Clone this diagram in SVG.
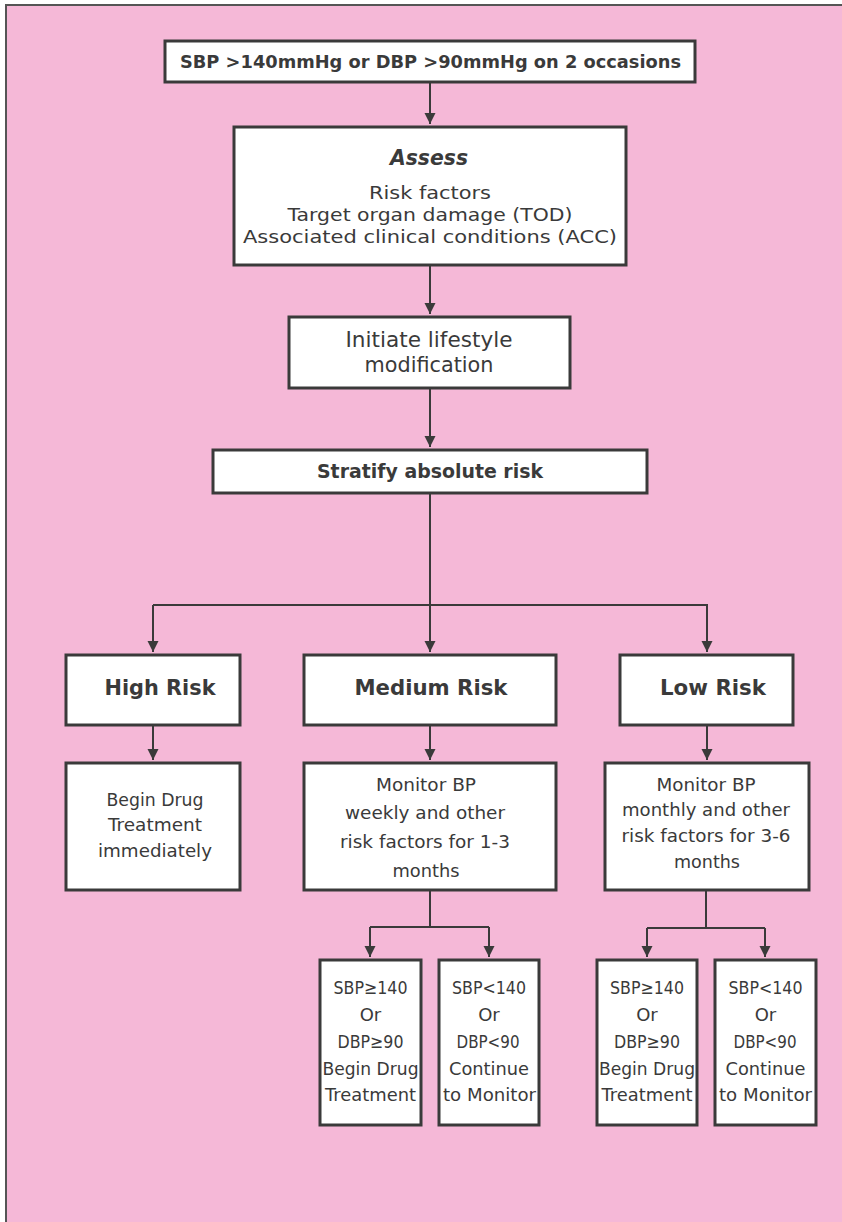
<svg xmlns="http://www.w3.org/2000/svg" width="842" height="1222" viewBox="0 0 842 1222">
<defs>
<style>
.box{fill:#ffffff;stroke:#3a3a3a;stroke-width:3}
.t{font-family:"DejaVu Sans","Liberation Sans",sans-serif;fill:#3a3a3a;text-anchor:middle}
.b{font-weight:bold}
.c{fill:none;stroke:#3a3a3a;stroke-width:2}
</style>
<marker id="ah" markerUnits="userSpaceOnUse" markerWidth="12" markerHeight="12" refX="11" refY="6" orient="auto">
<path d="M0,0.5 L11,6 L0,11.5 Z" fill="#3a3a3a"/>
</marker>
</defs>
<rect x="0" y="0" width="842" height="1222" fill="#ffffff"/>
<rect x="6" y="5" width="850" height="1230" fill="#F5B8D7" stroke="#555555" stroke-width="2"/>

<g id="connectors">
<path class="c" d="M430,83 V124" marker-end="url(#ah)"/>
<path class="c" d="M430,266 V314" marker-end="url(#ah)"/>
<path class="c" d="M430,389 V447" marker-end="url(#ah)"/>
<path class="c" d="M430,494 V652" marker-end="url(#ah)"/>
<path class="c" d="M153,605 H707 V652" marker-end="url(#ah)"/>
<path class="c" d="M153,605 V652" marker-end="url(#ah)"/>
<path class="c" d="M153,726 V760" marker-end="url(#ah)"/>
<path class="c" d="M430,726 V760" marker-end="url(#ah)"/>
<path class="c" d="M707,726 V760" marker-end="url(#ah)"/>
<path class="c" d="M430,891 V927 M370,927 H489"/>
<path class="c" d="M370,927 V957" marker-end="url(#ah)"/>
<path class="c" d="M489,927 V957" marker-end="url(#ah)"/>
<path class="c" d="M706,891 V928 M647,928 H765"/>
<path class="c" d="M647,928 V957" marker-end="url(#ah)"/>
<path class="c" d="M765,928 V957" marker-end="url(#ah)"/>
</g>

<g id="n-start">
<rect class="box" x="165" y="41" width="530" height="41"/>
<text class="t b" x="430.5" y="68" font-size="18" textLength="501" lengthAdjust="spacingAndGlyphs">SBP &gt;140mmHg or DBP &gt;90mmHg on 2 occasions</text>
</g>

<g id="n-assess">
<rect class="box" x="234" y="127" width="392" height="138"/>
<text class="t b" x="429" y="165" font-size="21" font-style="italic" textLength="78" lengthAdjust="spacingAndGlyphs">Assess</text>
<text class="t" x="430" y="199" font-size="18.5" textLength="122" lengthAdjust="spacingAndGlyphs">Risk factors</text>
<text class="t" x="430" y="221" font-size="18.5" textLength="285" lengthAdjust="spacingAndGlyphs">Target organ damage (TOD)</text>
<text class="t" x="430" y="243" font-size="18.5" textLength="374" lengthAdjust="spacingAndGlyphs">Associated clinical conditions (ACC)</text>
</g>

<g id="n-lifestyle">
<rect class="box" x="289" y="317" width="281" height="71"/>
<text class="t" x="429" y="347" font-size="21" textLength="167" lengthAdjust="spacingAndGlyphs">Initiate lifestyle</text>
<text class="t" x="429" y="372" font-size="21" textLength="129" lengthAdjust="spacingAndGlyphs">modification</text>
</g>

<g id="n-stratify">
<rect class="box" x="213" y="450" width="434" height="43"/>
<text class="t b" x="430" y="478" font-size="19" textLength="226" lengthAdjust="spacingAndGlyphs">Stratify absolute risk</text>
</g>

<g id="n-high">
<rect class="box" x="66" y="655" width="174" height="70"/>
<text class="t b" x="160" y="695" font-size="22" textLength="111" lengthAdjust="spacingAndGlyphs">High Risk</text>
</g>
<g id="n-medium">
<rect class="box" x="304" y="655" width="252" height="70"/>
<text class="t b" x="431" y="695" font-size="22" textLength="153" lengthAdjust="spacingAndGlyphs">Medium Risk</text>
</g>
<g id="n-low">
<rect class="box" x="620" y="655" width="173" height="70"/>
<text class="t b" x="713" y="695" font-size="22" textLength="106" lengthAdjust="spacingAndGlyphs">Low Risk</text>
</g>

<g id="n-high-action">
<rect class="box" x="66" y="763" width="174" height="127"/>
<text class="t" x="155" y="806" font-size="18" textLength="97" lengthAdjust="spacingAndGlyphs">Begin Drug</text>
<text class="t" x="155" y="831" font-size="18" textLength="94" lengthAdjust="spacingAndGlyphs">Treatment</text>
<text class="t" x="155" y="857" font-size="18" textLength="114" lengthAdjust="spacingAndGlyphs">immediately</text>
</g>
<g id="n-medium-action">
<rect class="box" x="304" y="763" width="252" height="127"/>
<text class="t" x="426" y="791" font-size="18" textLength="100" lengthAdjust="spacingAndGlyphs">Monitor BP</text>
<text class="t" x="425" y="819" font-size="18" textLength="160" lengthAdjust="spacingAndGlyphs">weekly and other</text>
<text class="t" x="425" y="848" font-size="18" textLength="170" lengthAdjust="spacingAndGlyphs">risk factors for 1-3</text>
<text class="t" x="426" y="877" font-size="18" textLength="67" lengthAdjust="spacingAndGlyphs">months</text>
</g>
<g id="n-low-action">
<rect class="box" x="605" y="763" width="204" height="127"/>
<text class="t" x="706" y="791" font-size="18" textLength="99" lengthAdjust="spacingAndGlyphs">Monitor BP</text>
<text class="t" x="706" y="816" font-size="18" textLength="168" lengthAdjust="spacingAndGlyphs">monthly and other</text>
<text class="t" x="706" y="842" font-size="18" textLength="169" lengthAdjust="spacingAndGlyphs">risk factors for 3-6</text>
<text class="t" x="707" y="868" font-size="18" textLength="66" lengthAdjust="spacingAndGlyphs">months</text>
</g>

<g id="n-med-high">
<rect class="box" x="320" y="960" width="101" height="165"/>
<text class="t" x="370.5" y="994" font-size="18" textLength="74" lengthAdjust="spacingAndGlyphs">SBP≥140</text>
<text class="t" x="370.5" y="1021" font-size="18">Or</text>
<text class="t" x="370.5" y="1048" font-size="18" textLength="66" lengthAdjust="spacingAndGlyphs">DBP≥90</text>
<text class="t" x="370.5" y="1075" font-size="18" textLength="96" lengthAdjust="spacingAndGlyphs">Begin Drug</text>
<text class="t" x="370.5" y="1101" font-size="18" textLength="91" lengthAdjust="spacingAndGlyphs">Treatment</text>
</g>
<g id="n-med-low">
<rect class="box" x="439" y="960" width="100" height="165"/>
<text class="t" x="489" y="994" font-size="18" textLength="74" lengthAdjust="spacingAndGlyphs">SBP&lt;140</text>
<text class="t" x="489" y="1021" font-size="18">Or</text>
<text class="t" x="488" y="1048" font-size="18" textLength="63" lengthAdjust="spacingAndGlyphs">DBP&lt;90</text>
<text class="t" x="489" y="1075" font-size="18" textLength="80" lengthAdjust="spacingAndGlyphs">Continue</text>
<text class="t" x="489.5" y="1101" font-size="18" textLength="93" lengthAdjust="spacingAndGlyphs">to Monitor</text>
</g>
<g id="n-low-high">
<rect class="box" x="597" y="960" width="100" height="165"/>
<text class="t" x="647" y="994" font-size="18" textLength="74" lengthAdjust="spacingAndGlyphs">SBP≥140</text>
<text class="t" x="647" y="1021" font-size="18">Or</text>
<text class="t" x="647" y="1048" font-size="18" textLength="66" lengthAdjust="spacingAndGlyphs">DBP≥90</text>
<text class="t" x="647" y="1075" font-size="18" textLength="96" lengthAdjust="spacingAndGlyphs">Begin Drug</text>
<text class="t" x="647" y="1101" font-size="18" textLength="91" lengthAdjust="spacingAndGlyphs">Treatment</text>
</g>
<g id="n-low-low">
<rect class="box" x="715" y="960" width="101" height="165"/>
<text class="t" x="765.5" y="994" font-size="18" textLength="74" lengthAdjust="spacingAndGlyphs">SBP&lt;140</text>
<text class="t" x="765.5" y="1021" font-size="18">Or</text>
<text class="t" x="765" y="1048" font-size="18" textLength="63" lengthAdjust="spacingAndGlyphs">DBP&lt;90</text>
<text class="t" x="765.5" y="1075" font-size="18" textLength="80" lengthAdjust="spacingAndGlyphs">Continue</text>
<text class="t" x="765.5" y="1101" font-size="18" textLength="93" lengthAdjust="spacingAndGlyphs">to Monitor</text>
</g>
</svg>
